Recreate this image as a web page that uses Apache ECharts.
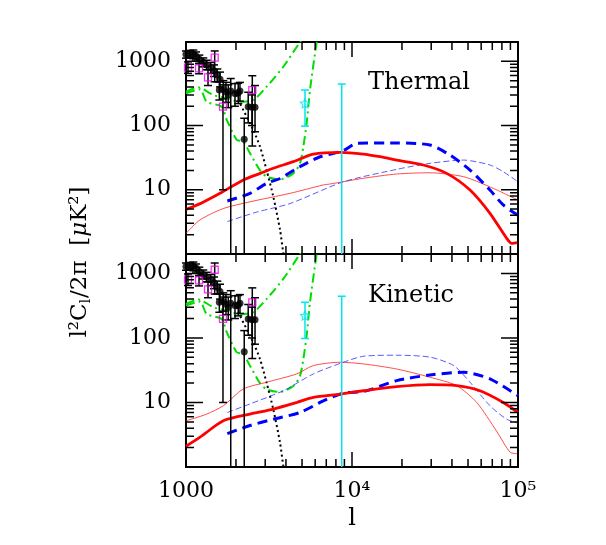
<!DOCTYPE html>
<html>
<head>
<meta charset="utf-8">
<script src="https://cdn.jsdelivr.net/npm/echarts@6/dist/echarts.min.js"></script>
<style>
html, body { margin: 0; padding: 0; background: #fff; }
#chart { width: 606px; height: 545px; }
</style>
</head>
<body>
<div id="chart"></div>
<script>
// axis ranges and ticks
const xMin = 1000, xMax = 100000;
const yMin = 1, yMax = 2000;
const xMajorTicks = [1000, 10000, 100000];
const xMinorTicks = [2000, 3000, 4000, 5000, 6000, 7000, 8000, 9000, 20000, 30000, 40000, 50000, 60000, 70000, 80000, 90000];
const yMajorTicks = [1, 10, 100, 1000];
const yMinorTicks = [2, 3, 4, 5, 6, 7, 8, 9, 20, 30, 40, 50, 60, 70, 80, 90, 200, 300, 400, 500, 600, 700, 800, 900];
const panelNames = ['Thermal', 'Kinetic'];

// model curves, [l, value]
const thermalRedThick = [[1000, 4.95], [1250, 6.3], [1603, 8.8], [2214, 14.2], [2800, 18], [3357, 21.6], [4430, 27.4], [5848, 36], [8472, 38.3], [11700, 36], [14750, 32.7], [18590, 29], [26900, 24.3], [37200, 18], [51400, 9.9], [67800, 4.3], [85500, 1.75], [91700, 1.46], [100000, 1.5]];
const thermalBlueThick = [[1774, 6.7], [2430, 8.8], [3062, 12.6], [3683, 15], [4860, 22.9], [6420, 32.7], [8870, 40.6], [10670, 52.8], [18590, 53.5], [29500, 49.8], [38900, 34.7], [51400, 20.3], [67800, 9.9], [81500, 5.8], [100000, 4.0]];
const thermalRedThin = [[1000, 2.1], [1215, 3.4], [1678, 5.1], [2430, 6.5], [4234, 8.8], [6720, 11.9], [7370, 12.3], [11700, 15.1], [18590, 17.6], [29500, 18.4], [46900, 16], [67800, 11.1], [100000, 6.9]];
const thermalBlueThin = [[1774, 3.2], [2667, 4.5], [4234, 6.1], [8870, 13.3], [18590, 20.8], [29500, 25.8], [46900, 29], [67800, 24.3], [81500, 19.1], [100000, 13.3]];

const kineticRedThick = [[1000, 2.1], [1215, 2.9], [1678, 5.2], [2430, 6.6], [3357, 7.9], [4645, 10], [5848, 12], [8472, 13.5], [11700, 15.2], [18590, 17.6], [29500, 18.9], [42800, 18.2], [59000, 15.2], [81500, 10], [100000, 7]];
const kineticBlueThick = [[1774, 3.3], [2430, 4.4], [3357, 5.5], [4860, 7], [6720, 10.6], [8870, 13.9], [12000, 15], [18590, 21.8], [29500, 26.7], [46900, 29.4], [67800, 23.2], [100000, 12.7]];
const kineticRedThin = [[1000, 5.2], [1332, 6.6], [1678, 8.9], [2214, 16.2], [3062, 20.6], [4645, 27.7], [5848, 37.3], [8472, 42], [11700, 39.6], [18590, 33], [29500, 24.6], [42800, 18.2], [56400, 10], [74300, 3.6], [89500, 1.7], [100000, 1.6]];
const kineticBlueThin = [[1774, 7], [2430, 9.5], [3857, 15.2], [5848, 27.7], [8870, 42], [11700, 52], [18590, 54], [29500, 50.4], [41000, 37.3], [51400, 20.6], [67800, 8.9], [85500, 5.5], [100000, 4.8]];

// curves shown in both panels
const greenUpper = [[1000, 336], [1186, 394], [1460, 299], [1759, 265], [2114, 235], [2543, 251], [3062, 403], [3857, 824], [4860, 2000], [5200, 2600]];
const greenLower = [[1000, 317], [1215, 366], [1332, 235], [1640, 197], [1759, 123], [2020, 60], [2214, 56], [2430, 36.9], [2791, 20], [3062, 16], [3683, 14.5], [4430, 18], [4860, 25.8], [5090, 46.8], [5330, 108], [5585, 357], [6130, 2000], [6300, 2600]];
const blackDotted = [[2020, 300], [2114, 222], [2543, 85], [2791, 47], [3062, 20], [3357, 7.8], [3683, 2.4], [3857, 1.04], [3950, 0.8]];

// measurements, [l, value, low, high]
const blackPoints = [
  [1000, 1285, 1120, 1450], [1057, 1300, 1150, 1480], [1107, 1300, 1100, 1500], [1149, 1210, 1050, 1400],
  [1203, 1075, 920, 1250], [1271, 965, 820, 1130], [1332, 877, 740, 1040], [1409, 796, 650, 960],
  [1475, 714, 580, 880], [1544, 612, 480, 760], [1588, 357, 250, 480], [1603, 525, 400, 680],
  [1678, 366, 260, 500], [1741, 336, 230, 470], [1797, 299, 190, 430], [1860, 345, 0.5, 540],
  [1973, 317, 200, 450], [2064, 325, 220, 455], [2114, 345, 240, 470], [2243, 61, 0.5, 130],
  [2370, 197, 110, 330], [2497, 192, 100, 300], [2605, 192, 80, 420]
];
const magentaPoints = [
  [1028, 800, 650, 980], [1198, 778, 640, 930], [1357, 564, 420, 740], [1489, 1140, 480, 1450],
  [1670, 197, 10, 430], [2508, 357, 48, 597]
];
const cyanPoints = [[5210, 222, 98, 357], [8670, null, 0.5, 443]];

const font = 'DejaVu Serif';
const chart = echarts.init(document.getElementById('chart'));

function xLabel(v) {
  const e = Math.round(Math.log10(v));
  if (Math.abs(Math.log10(v) - e) > 1e-6) return '';
  if (e === 3) return '1000';
  return '10' + (e === 4 ? '⁴' : '⁵');
}
function yLabel(v) {
  const e = Math.round(Math.log10(v));
  if (Math.abs(Math.log10(v) - e) > 1e-6 || e < 1) return '';
  return String(Math.round(v));
}

function xAxisCfg(gi, showLabels) {
  return {
    type: 'log', logBase: 10, gridIndex: gi, position: 'bottom', min: xMin, max: xMax,
    axisLine: { show: false },
    axisTick: { show: false },
    axisLabel: { show: showLabels, margin: 13, fontFamily: font, fontSize: 22, color: '#000', formatter: xLabel },
    splitLine: { show: false },
    name: showLabels ? 'l' : '', nameLocation: 'middle', nameGap: 40,
    nameTextStyle: { fontFamily: font, fontSize: 24, color: '#000' }
  };
}
function yAxisCfg(gi) {
  return {
    type: 'log', logBase: 10, gridIndex: gi, position: 'left', min: yMin, max: yMax,
    axisLine: { show: false },
    axisTick: { show: false },
    axisLabel: { margin: 15, fontFamily: font, fontSize: 22, color: '#000', formatter: yLabel },
    splitLine: { show: false }
  };
}

function errorBars(color) {
  return function (params, api) {
    const l = api.value(0), lo = api.value(1), hi = api.value(2);
    const bottom = api.coord([l, yMin])[1];
    const pHi = api.coord([l, hi]);
    const pLo = api.coord([l, lo]);
    const x = pHi[0];
    const cut = pLo[1] > bottom;
    const yLo = cut ? bottom : pLo[1];
    const st = { stroke: color, lineWidth: 1.5 };
    const children = [
      { type: 'line', shape: { x1: x, y1: yLo, x2: x, y2: pHi[1] }, style: st },
      { type: 'line', shape: { x1: x - 4, y1: pHi[1], x2: x + 4, y2: pHi[1] }, style: st }
    ];
    if (!cut) children.push({ type: 'line', shape: { x1: x - 4, y1: yLo, x2: x + 4, y2: yLo }, style: st });
    return { type: 'group', children: children };
  };
}

function lineSeries(gi, data, color, width, dash, z) {
  return {
    type: 'line', xAxisIndex: gi, yAxisIndex: gi, data: data,
    symbol: 'none', smooth: 0.25, clip: true, z: z || 3, silent: true,
    lineStyle: { color: color, width: width, type: dash || 'solid' }
  };
}

const starPath = 'path://M0,-10L2.9,-4L9.5,-3.1L4.8,1.5L5.9,8.1L0,5L-5.9,8.1L-4.8,1.5L-9.5,-3.1L-2.9,-4Z';

function panelSeries(gi, redThick, blueThick, redThin, blueThin) {
  return [
    lineSeries(gi, greenUpper, '#00dd00', 2, [9, 4, 2, 4]),
    lineSeries(gi, greenLower, '#00dd00', 2, [9, 4, 2, 4]),
    lineSeries(gi, blackDotted, '#000', 2, [2, 3]),
    lineSeries(gi, redThin, '#ff2020', 0.8),
    lineSeries(gi, blueThin, '#3030ff', 0.8, [6, 3]),
    lineSeries(gi, blueThick, '#0000ff', 3, [10, 6], 4),
    lineSeries(gi, redThick, '#ff0000', 2.8, 'solid', 4),
    {
      type: 'custom', xAxisIndex: gi, yAxisIndex: gi, silent: true, z: 5,
      renderItem: errorBars('#000'), encode: { x: 0, y: 1 },
      data: blackPoints.concat(magentaPoints).map(p => [p[0], p[2], p[3]])
    },
    {
      type: 'custom', xAxisIndex: gi, yAxisIndex: gi, silent: true, z: 5,
      renderItem: errorBars('#00e5ee'), encode: { x: 0, y: 1 },
      data: cyanPoints.map(p => [p[0], p[2], p[3]])
    },
    {
      type: 'scatter', xAxisIndex: gi, yAxisIndex: gi, silent: true, z: 6,
      symbol: 'circle', symbolSize: 7, itemStyle: { color: '#000' },
      data: blackPoints.map(p => [p[0], p[1]])
    },
    {
      type: 'scatter', xAxisIndex: gi, yAxisIndex: gi, silent: true, z: 6,
      symbol: 'rect', symbolSize: 7,
      itemStyle: { color: 'rgba(0,0,0,0)', borderColor: '#ee00ee', borderWidth: 1.3 },
      data: magentaPoints.map(p => [p[0], p[1]])
    },
    {
      type: 'scatter', xAxisIndex: gi, yAxisIndex: gi, silent: true, z: 6,
      symbol: starPath, symbolSize: 9,
      itemStyle: { color: 'rgba(0,0,0,0)', borderColor: '#00e5ee', borderWidth: 1.2 },
      data: cyanPoints.filter(p => p[1] != null).map(p => [p[0], p[1]])
    }
  ];
}

const frame = { show: true, borderColor: '#000', borderWidth: 2, backgroundColor: 'rgba(0,0,0,0)' };
const series = panelSeries(0, thermalRedThick, thermalBlueThick, thermalRedThin, thermalBlueThin)
  .concat(panelSeries(1, kineticRedThick, kineticBlueThick, kineticRedThin, kineticBlueThin));
const option = {
  animation: false,
  backgroundColor: '#fff',
  grid: [
    Object.assign({ left: 186, top: 42, width: 332, height: 212 }, frame),
    Object.assign({ left: 186, top: 254, width: 332, height: 213 }, frame)
  ],
  xAxis: [xAxisCfg(0, false), xAxisCfg(1, true)],
  yAxis: [yAxisCfg(0), yAxisCfg(1)],
  graphic: [
    {
      type: 'text', x: 368, y: 83,
      style: { text: panelNames[0], font: '24px "DejaVu Serif"', fill: '#000', verticalAlign: 'middle' }
    },
    {
      type: 'text', x: 368, y: 296,
      style: { text: panelNames[1], font: '24px "DejaVu Serif"', fill: '#000', verticalAlign: 'middle' }
    },
    {
      type: 'text', x: 80, y: 262, rotation: Math.PI / 2,
      style: {
        text: '{a|l²C}{s|l}{a|/2π  [}{i|μ}{a|K²]}',
        align: 'center', verticalAlign: 'middle',
        rich: {
          a: { fontFamily: font, fontSize: 23, fill: '#000' },
          i: { fontFamily: font, fontSize: 23, fontStyle: 'italic', fill: '#000' },
          s: { fontFamily: font, fontSize: 14, fill: '#000', padding: [12, 1, 0, 0] }
        }
      }
    }
  ],
  series: series
};
chart.setOption(option);

// tick marks on all four sides, as broken line series in each panel's own axes;
// tick length in pixels is turned into a factor through the axis scale
function tickSeries(gi) {
  const px = p => chart.convertToPixel({ xAxisIndex: gi, yAxisIndex: gi }, p);
  const decX = px([10000, yMin])[0] - px([1000, yMin])[0];
  const decY = px([xMin, 1])[1] - px([xMin, 10])[1];
  const gap = ['-', '-'];
  const data = [];
  const xTick = (v, len) => {
    const f = Math.pow(10, len / decY);
    data.push([v, yMin], [v, yMin * f], gap, [v, yMax], [v, yMax / f], gap);
  };
  const yTick = (v, len) => {
    const f = Math.pow(10, len / decX);
    data.push([xMin, v], [xMin * f, v], gap, [xMax, v], [xMax / f, v], gap);
  };
  xMajorTicks.forEach(v => xTick(v, 15));
  xMinorTicks.forEach(v => xTick(v, 8));
  yMajorTicks.forEach(v => yTick(v, 17));
  yMinorTicks.forEach(v => yTick(v, 8));
  return {
    type: 'line', xAxisIndex: gi, yAxisIndex: gi, data: data, connectNulls: false,
    symbol: 'none', smooth: false, clip: false, silent: true, z: 8,
    lineStyle: { color: '#000', width: 1.5 }
  };
}
chart.setOption({ series: series.concat([tickSeries(0), tickSeries(1)]) });

window.addEventListener('resize', () => {
  chart.resize();
});
</script>
</body>
</html>
